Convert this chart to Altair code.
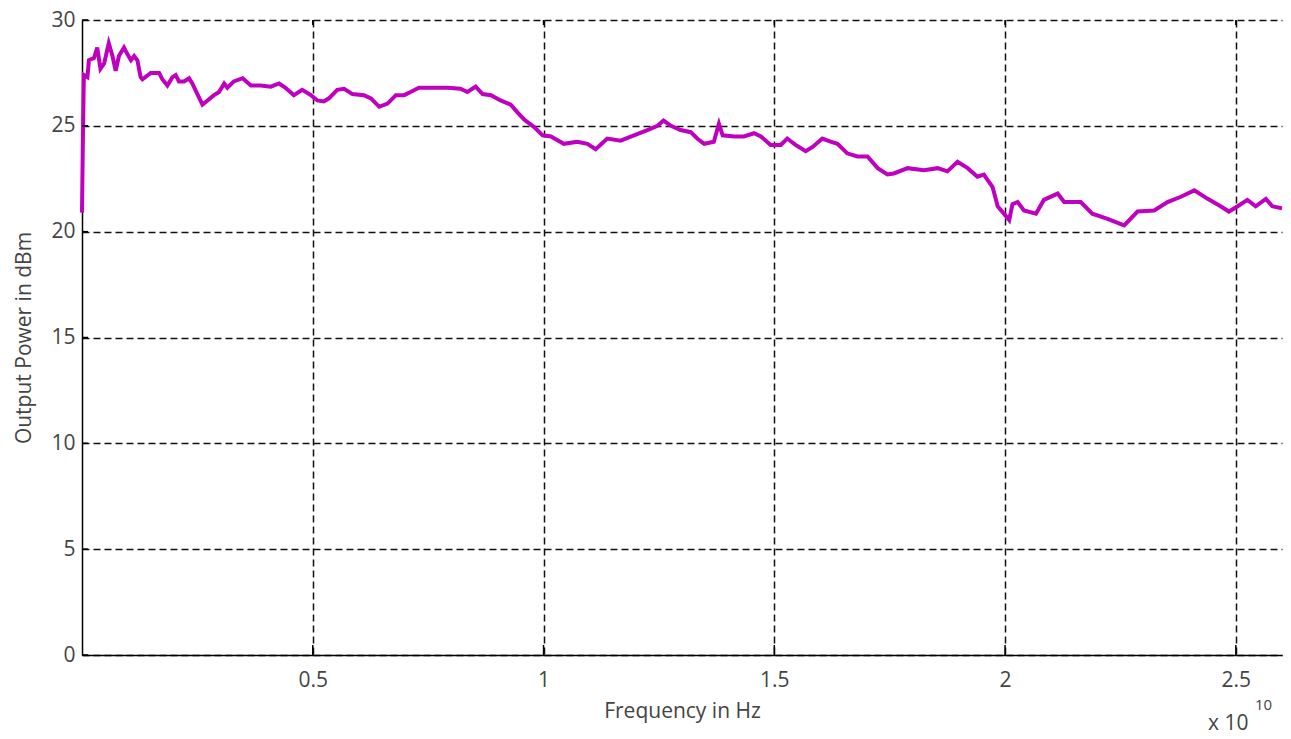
import altair as alt
import pandas as pd

# Frequency in units of 1e10 Hz
freq = [0, 0.002, 0.004, 0.0117, 0.015, 0.026, 0.033, 0.04, 0.048, 0.058,
        0.066, 0.073, 0.08, 0.091, 0.098, 0.106, 0.113, 0.12, 0.127, 0.131,
        0.149, 0.167, 0.174, 0.185, 0.196, 0.203, 0.21, 0.221, 0.232, 0.239,
        0.25, 0.261, 0.272, 0.286, 0.297, 0.308, 0.315, 0.329, 0.348, 0.366,
        0.387, 0.409, 0.427, 0.441, 0.459, 0.477, 0.496, 0.51, 0.524, 0.535,
        0.553, 0.568, 0.586, 0.611, 0.626, 0.644, 0.662, 0.68, 0.698, 0.712,
        0.73, 0.763, 0.792, 0.82, 0.835, 0.853, 0.868, 0.886, 0.907, 0.929,
        0.943, 0.958, 0.979, 0.998, 1.016, 1.044, 1.073, 1.095, 1.113, 1.138,
        1.167, 1.196, 1.225, 1.247, 1.26, 1.276, 1.297, 1.319, 1.333, 1.348,
        1.369, 1.38, 1.388, 1.413, 1.434, 1.456, 1.471, 1.492, 1.514, 1.528,
        1.546, 1.568, 1.583, 1.604, 1.622, 1.637, 1.658, 1.68, 1.702, 1.724,
        1.745, 1.759, 1.789, 1.824, 1.854, 1.875, 1.897, 1.919, 1.94, 1.954,
        1.973, 1.984, 2.009, 2.016, 2.027, 2.041, 2.067, 2.084, 2.114, 2.128,
        2.164, 2.189, 2.222, 2.258, 2.287, 2.323, 2.352, 2.381, 2.41, 2.439,
        2.467, 2.485, 2.504, 2.525, 2.543, 2.565, 2.579, 2.6]

power = [20.9, 24.5, 27.4, 27.3, 28.1, 28.2, 28.7, 27.7, 27.95, 28.9,
         28.3, 27.6, 28.3, 28.7, 28.4, 28.1, 28.3, 28.1, 27.3, 27.2,
         27.5, 27.5, 27.2, 26.9, 27.3, 27.4, 27.1, 27.1, 27.25, 27.0,
         26.5, 26.0, 26.2, 26.45, 26.6, 27.0, 26.8, 27.1, 27.25, 26.9,
         26.9, 26.85, 27.0, 26.8, 26.45, 26.7, 26.45, 26.2, 26.15, 26.3,
         26.7, 26.75, 26.5, 26.45, 26.3, 25.9, 26.05, 26.45, 26.45, 26.6,
         26.8, 26.8, 26.8, 26.75, 26.6, 26.85, 26.5, 26.45, 26.2, 26.0,
         25.65, 25.3, 24.95, 24.55, 24.5, 24.15, 24.25, 24.15, 23.9, 24.4,
         24.3, 24.55, 24.8, 25.0, 25.25, 25.0, 24.8, 24.7, 24.4, 24.15,
         24.25, 25.1, 24.55, 24.5, 24.5, 24.65, 24.5, 24.1, 24.1, 24.4,
         24.1, 23.8, 24.0, 24.4, 24.25, 24.15, 23.7, 23.55, 23.55, 23.0,
         22.7, 22.75, 23.0, 22.9, 23.0, 22.85, 23.3, 23.0, 22.6, 22.7,
         22.1, 21.2, 20.55, 21.3, 21.4, 21.0, 20.85, 21.5, 21.8, 21.4,
         21.4, 20.85, 20.6, 20.3, 20.95, 21.0, 21.4, 21.65, 21.95, 21.55,
         21.2, 20.95, 21.2, 21.5, 21.2, 21.55, 21.2, 21.1]

x_ticks = [0.5, 1, 1.5, 2, 2.5]
y_ticks = [0, 5, 10, 15, 20, 25, 30]
exp_text = ["x 10"]
exp_sup_text = ["10"]

assert len(freq) == len(power)

W, H = 1200, 635
FONT = "Open Sans"
LABEL_COLOR = "#444444"

df = pd.DataFrame({"f": freq, "p": power})
xt = pd.DataFrame({"t": x_ticks})
yt = pd.DataFrame({"t": y_ticks})

xscale = alt.Scale(domain=[0, 2.6], nice=False, zero=False)
yscale = alt.Scale(domain=[0, 30], nice=False)

line = alt.Chart(df).mark_line(color="#bf00bf", strokeWidth=4, strokeJoin="miter").encode(
    x=alt.X("f:Q", scale=xscale,
            axis=alt.Axis(values=x_ticks, format="~g", title="Frequency in Hz",
                          titlePadding=10, labelPadding=14)),
    y=alt.Y("p:Q", scale=yscale,
            axis=alt.Axis(values=y_ticks, title="Output Power in dBm",
                          titlePadding=16, labelPadding=7)),
)

bottom_ticks = alt.Chart(xt).mark_rule(color="black", strokeWidth=1.5).encode(
    x=alt.X("t:Q", scale=xscale), y=alt.value(H), y2=alt.value(H - 10)
)
top_ticks = alt.Chart(xt).mark_rule(color="black", strokeWidth=1.5).encode(
    x=alt.X("t:Q", scale=xscale), y=alt.value(0), y2=alt.value(5)
)
left_ticks = alt.Chart(yt).mark_rule(color="black", strokeWidth=1.5).encode(
    y=alt.Y("t:Q", scale=yscale), x=alt.value(0), x2=alt.value(6)
)

exp_base = alt.Chart(pd.DataFrame({"s": exp_text})).mark_text(
    font=FONT, fontSize=21, color=LABEL_COLOR, align="left", baseline="middle",
    fontWeight="normal"
).encode(text="s:N", x=alt.value(W - 74), y=alt.value(H + 69))
exp_sup = alt.Chart(pd.DataFrame({"s": exp_sup_text})).mark_text(
    font=FONT, fontSize=15, color=LABEL_COLOR, align="left", baseline="middle",
    fontWeight="normal"
).encode(text="s:N", x=alt.value(W - 27), y=alt.value(H + 50))

chart = alt.layer(
    line, bottom_ticks, top_ticks, left_ticks, exp_base, exp_sup
).properties(
    width=W, height=H,
    autosize=alt.AutoSizeParams(type="none"),
    padding={"left": 82, "top": 20, "right": 9, "bottom": 84},
    background="white",
).configure_view(stroke=None).configure_axis(
    domainColor="black", domainWidth=1.5,
    grid=True, gridColor="#111111", gridDash=[7, 4], gridWidth=1.5, gridOpacity=1,
    ticks=False,
    labelFont=FONT, labelFontSize=21, labelColor=LABEL_COLOR,
    titleFont=FONT, titleFontSize=21, titleColor=LABEL_COLOR, titleFontWeight="normal",
)

chart.save("out.html", embed_options={"renderer": "svg", "actions": False})
